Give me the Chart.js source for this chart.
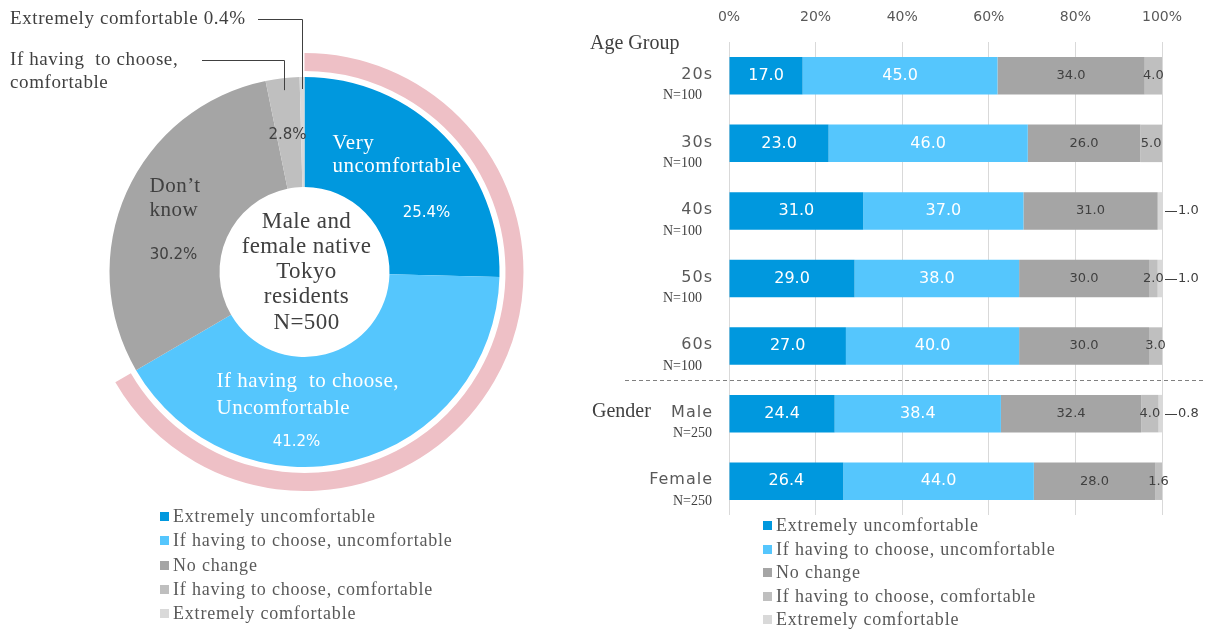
<!DOCTYPE html>
<html>
<head>
<meta charset="utf-8">
<script src="https://cdn.jsdelivr.net/npm/chart.js@4.4.1/dist/chart.umd.min.js"></script>
<style>
  body { margin: 0; background: #fff; width: 1207px; height: 630px; overflow: hidden; position: relative; font-family: "Liberation Serif", serif; }
  #pie { position: absolute; left: 0; top: 0; }
  #bar { position: absolute; left: 580px; top: 0; }
  .legend { position: absolute; margin: 0; padding: 0; list-style: none; color: #595959; font-size: 18px; letter-spacing: 0.8px; z-index: 2; }
  .legend li { white-space: nowrap; }
  .legend span { display: inline-block; width: 9px; height: 9px; margin-right: 4px; vertical-align: 1px; }
</style>
</head>
<body>
<canvas id="pie" width="600" height="630"></canvas>
<canvas id="bar" width="627" height="630"></canvas>
<ul class="legend" id="legend-left" style="left:160px; top:504px;"></ul>
<ul class="legend" id="legend-right" style="left:763px; top:514px;"></ul>
<script>
// series shared by both charts
const seriesNames = ['Extremely uncomfortable', 'If having to choose, uncomfortable', 'No change', 'If having to choose, comfortable', 'Extremely comfortable'];
const seriesColors = ['#0098de', '#55c6fd', '#a5a5a5', '#bfbfbf', '#d9d9d9'];

// donut: all native Tokyo residents, N=500
const pieValues = [25.4, 41.2, 30.2, 2.8, 0.4];
const pieCaption = ['Male and', 'female native', 'Tokyo', 'residents', 'N=500'];

// stacked bars by group
const groups = ['20s', '30s', '40s', '50s', '60s', 'Male', 'Female'];
const groupN = ['N=100', 'N=100', 'N=100', 'N=100', 'N=100', 'N=250', 'N=250'];
const extremelyUncomfortable = [17.0, 23.0, 31.0, 29.0, 27.0, 24.4, 26.4];
const ifUncomfortable = [45.0, 46.0, 37.0, 38.0, 40.0, 38.4, 44.0];
const noChange = [34.0, 26.0, 31.0, 30.0, 30.0, 32.4, 28.0];
const ifComfortable = [4.0, 5.0, 0, 2.0, 3.0, 4.0, 1.6];
const extremelyComfortable = [0, 0, 1.0, 1.0, 0, 0.8, 0];
const xTicks = [0, 20, 40, 60, 80, 100];

const PINK = '#eec0c6';
const TEXT = '#404040';
const SERIF = '"Liberation Serif", serif';
const SANS = '"DejaVu Sans", sans-serif';

// legends
function buildLegend(id, lineH) {
  const ul = document.getElementById(id);
  seriesNames.forEach(function(name, i) {
    const li = document.createElement('li');
    li.style.height = lineH + 'px';
    li.style.lineHeight = lineH + 'px';
    li.innerHTML = '<span style="background:' + seriesColors[i] + '"></span>' + name;
    ul.appendChild(li);
  });
}
buildLegend('legend-left', 24.3);
buildLegend('legend-right', 23.6);

// ---------- donut ----------
const uncomfortableShare = pieValues[0] + pieValues[1];

const pieNotes = {
  id: 'pieNotes',
  afterDraw(chart) {
    const meta = chart.getDatasetMeta(2);
    const first = meta.data[0];
    const cx = first.x, cy = first.y;
    const ctx = chart.ctx;
    ctx.save();
    ctx.textBaseline = 'middle';

    function txt(s, x, y, font, color, align, spacing) {
      ctx.font = font;
      ctx.fillStyle = color;
      ctx.textAlign = align || 'left';
      ctx.letterSpacing = (spacing || 0) + 'px';
      ctx.fillText(s, x, y);
    }

    // outside labels with leader lines
    txt('Extremely comfortable 0.4%', 10, 19, '19px ' + SERIF, TEXT, 'left', 0.6);
    txt('If having  to choose,', 10, 60, '19px ' + SERIF, TEXT, 'left', 0.6);
    txt('comfortable', 10, 83, '19px ' + SERIF, TEXT, 'left', 0.6);

    ctx.strokeStyle = TEXT;
    ctx.lineWidth = 1;
    [[4, 19, 258], [3, 60, 202]].forEach(function(l) {
      const arc = meta.data[l[0]];
      const mid = (arc.startAngle + arc.endAngle) / 2;
      const r = arc.outerRadius - 12;
      const x = Math.round(cx + r * Math.cos(mid)) + 0.5;
      const yEnd = cy + r * Math.sin(mid);
      ctx.beginPath();
      ctx.moveTo(l[2], l[1] + 0.5);
      ctx.lineTo(x, l[1] + 0.5);
      ctx.lineTo(x, yEnd);
      ctx.stroke();
    });

    // slice labels
    txt('Very', cx + 28, cy - 129, '21px ' + SERIF, '#fff', 'left', 0.5);
    txt('uncomfortable', cx + 28, cy - 106, '21px ' + SERIF, '#fff', 'left', 0.5);
    txt('25.4%', cx + 122, cy - 59, '15px ' + SANS, '#fff', 'center');
    txt('Don\u2019t', cx - 155, cy - 86, '21px ' + SERIF, TEXT, 'left', 0.5);
    txt('know', cx - 155, cy - 62, '21px ' + SERIF, TEXT, 'left', 0.5);
    txt('30.2%', cx - 131, cy - 17, '15px ' + SANS, TEXT, 'center');
    txt('2.8%', cx - 17, cy - 137, '15px ' + SANS, TEXT, 'center');
    txt('If having  to choose,', cx - 88, cy + 109, '21px ' + SERIF, '#fff', 'left', 0.5);
    txt('Uncomfortable', cx - 88, cy + 136, '21px ' + SERIF, '#fff', 'left', 0.5);
    txt('41.2%', cx - 8, cy + 170, '15px ' + SANS, '#fff', 'center');

    // centre caption
    const dy = [-50, -25, 0, 25, 51];
    pieCaption.forEach(function(s, i) {
      txt(s, cx + 2, cy + dy[i], '23px ' + SERIF, TEXT, 'center', 0.4);
    });
    ctx.restore();
  }
};

new Chart(document.getElementById('pie'), {
  type: 'doughnut',
  data: {
    labels: seriesNames,
    datasets: [{
      // highlight ring around the two "uncomfortable" answers
      data: [uncomfortableShare, 100 - uncomfortableShare],
      backgroundColor: [PINK, 'rgba(0,0,0,0)'],
      borderWidth: 0,
      weight: 18
    }, {
      data: [100],
      backgroundColor: ['rgba(0,0,0,0)'],
      borderWidth: 0,
      weight: 6
    }, {
      data: pieValues,
      backgroundColor: seriesColors,
      borderWidth: 0,
      weight: 110
    }]
  },
  options: {
    responsive: false,
    animation: false,
    events: [],
    cutout: 85,
    hoverOffset: 0,
    layout: { padding: { left: 85, right: 76, top: 53, bottom: 139 } },
    plugins: { legend: { display: false }, tooltip: { enabled: false } }
  },
  plugins: [pieNotes]
});

// ---------- stacked bars ----------
const barValues = {
  id: 'barValues',
  afterDatasetsDraw(chart) {
    const ctx = chart.ctx;
    ctx.save();
    ctx.textBaseline = 'middle';
    chart.data.datasets.forEach(function(ds, d) {
      const meta = chart.getDatasetMeta(d);
      meta.data.forEach(function(bar, i) {
        const v = ds.data[i];
        if (!v) return;
        const s = v.toFixed(1);
        if (d === 4) {
          const y = Math.round(bar.y) + 0.5;
          ctx.strokeStyle = TEXT;
          ctx.lineWidth = 1;
          ctx.beginPath();
          ctx.moveTo(bar.x + 3, y);
          ctx.lineTo(bar.x + 15, y);
          ctx.stroke();
          ctx.font = '13px ' + SANS;
          ctx.fillStyle = TEXT;
          ctx.textAlign = 'left';
          ctx.fillText(s, bar.x + 16, bar.y);
        } else {
          ctx.font = (d < 2 ? '16px ' : '13px ') + SANS;
          ctx.fillStyle = d < 2 ? '#fff' : TEXT;
          ctx.textAlign = 'center';
          ctx.fillText(s, (bar.x + bar.base) / 2, bar.y);
        }
      });
    });
    ctx.restore();
  }
};

const sideLabels = {
  id: 'sideLabels',
  afterDraw(chart) {
    const ctx = chart.ctx;
    const ys = chart.scales.y;
    const left = chart.chartArea.left;
    ctx.save();
    ctx.textBaseline = 'middle';
    groups.forEach(function(g, i) {
      const y = ys.getPixelForValue(i);
      ctx.textAlign = 'right';
      ctx.fillStyle = '#595959';
      ctx.font = '16px ' + SANS;
      ctx.letterSpacing = '1px';
      ctx.fillText(g, left - 16, y - 1);
      ctx.letterSpacing = '0px';
      ctx.fillStyle = TEXT;
      ctx.font = '14px ' + SERIF;
      ctx.fillText(groupN[i], left - (i < 5 ? 27 : 17), y + 20);
    });
    ctx.textAlign = 'left';
    ctx.fillStyle = TEXT;
    ctx.font = '20px ' + SERIF;
    ctx.fillText('Age Group', 10, ys.getPixelForValue(0) - 32);
    ctx.fillText('Gender', 12, ys.getPixelForValue(5) - 2);

    // dashed divider between age groups and gender
    const yd = Math.round((ys.getPixelForValue(4) + ys.getPixelForValue(5)) / 2) + 0.5;
    ctx.strokeStyle = '#808080';
    ctx.lineWidth = 1;
    ctx.setLineDash([4, 3]);
    ctx.beginPath();
    ctx.moveTo(45, yd);
    ctx.lineTo(625, yd);
    ctx.stroke();
    ctx.restore();
  }
};

const barSeries = [extremelyUncomfortable, ifUncomfortable, noChange, ifComfortable, extremelyComfortable];

new Chart(document.getElementById('bar'), {
  type: 'bar',
  data: {
    labels: groups,
    datasets: barSeries.map(function(vals, k) {
      return {
        label: seriesNames[k],
        data: vals,
        backgroundColor: seriesColors[k],
        borderWidth: 0,
        barPercentage: 1,
        categoryPercentage: 0.555
      };
    })
  },
  options: {
    indexAxis: 'y',
    responsive: false,
    animation: false,
    events: [],
    layout: { padding: { left: 149, right: 45, top: 10, bottom: 115 } },
    scales: {
      x: {
        position: 'top',
        stacked: true,
        min: 0,
        max: 100,
        afterFit: function(scale) { scale.height = 32; },
        afterBuildTicks: function(scale) { scale.ticks = xTicks.map(function(v) { return { value: v }; }); },
        ticks: {
          padding: 16,
          color: '#595959',
          font: { family: SANS, size: 14 },
          callback: function(v) { return v + '%'; }
        },
        grid: { color: '#d9d9d9', drawTicks: false },
        border: { display: false }
      },
      y: {
        stacked: true,
        display: false
      }
    },
    plugins: { legend: { display: false }, tooltip: { enabled: false } }
  },
  plugins: [barValues, sideLabels]
});
</script>
</body>
</html>
